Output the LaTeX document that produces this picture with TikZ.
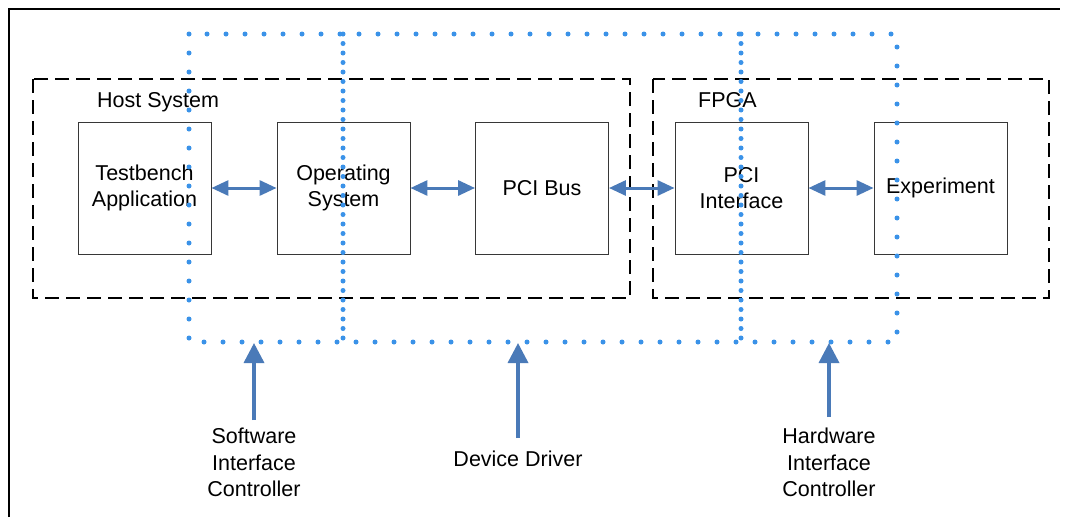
\documentclass[tikz,border=0pt]{standalone}
\usepackage{fontspec}
\setmainfont{Liberation Sans}
\usetikzlibrary{arrows.meta}
\definecolor{dotblue}{RGB}{58,146,232}
\definecolor{arrowblue}{RGB}{74,122,184}
\definecolor{boxgray}{RGB}{55,55,55}
\begin{document}
\begin{tikzpicture}[x=1pt,y=-1pt,
  block/.style={draw=boxgray,line width=0.9pt,minimum width=133pt,minimum height=132pt,
                align=center,inner sep=0pt,font=\fontsize{21.5}{26}\selectfont},
  region/.style={draw=black,line width=2pt,dash pattern=on 14pt off 7pt},
  sparsedots/.style={draw=dotblue,line width=5pt,line cap=round,dash pattern=on 0pt off 19pt},
  densedots/.style={draw=dotblue,line width=5pt,line cap=round,dash pattern=on 0pt off 9.5pt},
  link/.style={draw=arrowblue,line width=3pt,
               {Triangle[length=17pt,width=15pt]}-{Triangle[length=17pt,width=15pt]}},
  pointer/.style={draw=arrowblue,line width=3.5pt,-{Triangle[length=20pt,width=20pt]}},
  caption/.style={align=center,inner sep=0pt,anchor=north,font=\fontsize{21.5}{26.5}\selectfont},
  title/.style={anchor=base west,inner sep=0pt,font=\fontsize{21.5}{26}\selectfont}]

\useasboundingbox (0,0) rectangle (1067,517);
\fill[white] (0,0) rectangle (1067,517);

% outer frame (top and left rules)
\draw[line width=1.5pt] (9,517) -- (9,9) -- (1060,9);

% host and FPGA groupings
\draw[region] (33,79) rectangle (630,298);
\draw[region] (653,79) rectangle (1049,298);
\node[title] (hosttitle) at (97,107) {Host System};
\node[title] (fpgatitle) at (698,107) {FPGA};

% functional blocks
\node[block] (tb)  at (144.5,188) {Testbench\\Application};
\node[block] (os)  at (343.5,188) {Operating\\System};
\node[block] (bus) at (542,188)   {PCI Bus};
\node[block] (pci) at (741.5,188) {PCI\\Interface};
\node[block] (exp) at (940.5,188) {Experiment};

% data paths between blocks
\draw[link] (tb.east)  -- (os.west);
\draw[link] (os.east)  -- (bus.west);
\draw[link] (bus.east) -- (pci.west);
\draw[link] (pci.east) -- (exp.west);

% interface-controller scopes
\draw[sparsedots] (189,34) rectangle (897,342);
\draw[densedots] (343,34) -- (343,342);
\draw[densedots] (741,34) -- (741,342);

% scope captions and pointers
\node[caption] (swc) at (254,428) {Software\\Interface\\Controller};
\node[caption] (dd)  at (518,451) {Device Driver};
\node[caption] (hwc) at (829,428) {Hardware\\Interface\\Controller};

\coordinate (swtip) at (254,343);
\coordinate (ddtip) at (518,343);
\coordinate (hwtip) at (829,343);

\draw[pointer] ([yshift=8pt]swc.north) -- (swtip);
\draw[pointer] ([yshift=13pt]dd.north)  -- (ddtip);
\draw[pointer] ([yshift=11pt]hwc.north) -- (hwtip);
\end{tikzpicture}
\end{document}
